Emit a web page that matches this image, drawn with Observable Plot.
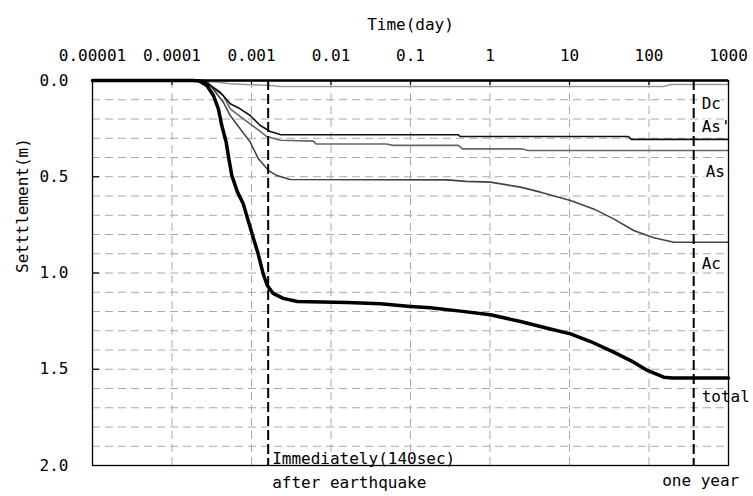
<!DOCTYPE html>
<html>
<head>
<meta charset="utf-8">
<script src="https://cdn.jsdelivr.net/npm/d3@7"></script>
<script src="https://cdn.jsdelivr.net/npm/@observablehq/plot@0.6"></script>
<style>
  html, body { margin: 0; padding: 0; background: #fff; }
</style>
</head>
<body>
<div id="chart"></div>
<script>
// Axis ticks
const timeTicks = [1e-5, 1e-4, 1e-3, 0.01, 0.1, 1, 10, 100, 1000];
const timeTickLabels = ["0.00001", "0.0001", "0.001", "0.01", "0.1", "1", "10", "100", "1000"];
const settleTicks = [0, 0.5, 1, 1.5, 2];
const settleTickLabels = ["0.0", "0.5", "1.0", "1.5", "2.0"];
const settleGrid = [0.1, 0.2, 0.3, 0.4, 0.5, 0.6, 0.7, 0.8, 0.9, 1.0, 1.1, 1.2, 1.3, 1.4, 1.5, 1.6, 1.7, 1.8, 1.9];

// Reference times (days): 140 sec after earthquake, one year
const markerTimes = [140 / 86400, 365];

// Series: total
const totalTime = [1e-5, 1.8e-4, 2.2e-4, 2.74e-4, 3.32e-4, 3.83e-4, 4.23e-4, 4.8e-4, 5.19e-4, 5.66e-4, 6.67e-4, 7.85e-4, 9.08e-4, 1.05e-3, 1.21e-3, 1.4e-3, 1.58e-3, 1.87e-3, 2.51e-3, 3.77e-3, 0.0161, 0.0418, 0.0998, 0.178, 0.425, 1.01, 2.42, 5.25, 10.3, 18.4, 35.9, 64.1, 95.5, 153, 197, 1000];
const totalSettle = [0, 0, 0.003, 0.026, 0.078, 0.147, 0.234, 0.32, 0.407, 0.494, 0.58, 0.639, 0.727, 0.816, 0.899, 1.003, 1.065, 1.106, 1.132, 1.148, 1.153, 1.16, 1.174, 1.181, 1.198, 1.217, 1.252, 1.287, 1.316, 1.356, 1.411, 1.463, 1.506, 1.541, 1.546, 1.546];

// Series: Ac
const acTime = [1e-5, 2.5e-4, 2.74e-4, 4.43e-4, 5.4e-4, 7.19e-4, 9.64e-4, 1.22e-3, 1.64e-3, 2.09e-3, 3.07e-3, 0.292, 0.5, 1.01, 2.42, 4.33, 10.3, 20.1, 35.9, 64.1, 115, 205, 1000];
const acSettle = [0, 0, 0.003, 0.113, 0.182, 0.251, 0.32, 0.407, 0.468, 0.494, 0.514, 0.516, 0.524, 0.528, 0.554, 0.58, 0.623, 0.667, 0.719, 0.779, 0.817, 0.84, 0.84];

// Series: As
const asTime = [1e-5, 2.4e-4, 4.43e-4, 5.4e-4, 7.9e-4, 1.17e-3, 1.56e-3, 2.3e-3, 6.0e-3, 6.5e-3, 0.05, 0.06, 0.4, 0.45, 2.5, 3, 1000];
const asSettle = [0, 0, 0.078, 0.147, 0.199, 0.251, 0.291, 0.31, 0.315, 0.329, 0.33, 0.337, 0.337, 0.355, 0.355, 0.364, 0.364];

// Series: As'
const asPrimeTime = [1e-5, 2.48e-4, 4.04e-4, 5.4e-4, 7.19e-4, 9.64e-4, 1.29e-3, 1.72e-3, 2.3e-3, 0.4, 0.42, 55, 60, 1000];
const asPrimeSettle = [0, 0, 0.061, 0.121, 0.147, 0.182, 0.234, 0.265, 0.281, 0.282, 0.291, 0.291, 0.306, 0.306];

// Series: Dc
const dcTime = [1e-5, 2.2e-4, 3.5e-4, 5.4e-4, 1.72e-3, 2.3e-3, 150, 190, 1000];
const dcSettle = [0, 0, 0.008, 0.017, 0.026, 0.031, 0.031, 0.021, 0.021];

// Curve labels
const seriesLabels = ["Dc", "As'", "As", "Ac", "total"];

const toRows = (ts, ss) => ts.map((t, i) => ({t, s: ss[i]}));

const FONT = "'DejaVu Sans Mono', 'Liberation Mono', monospace";
const W = 753, H = 496, ML = 92, MR = 25, MT = 80, MB = 31;

const labelRows = [
  {label: seriesLabels[0], t: 365, s: 0.12},
  {label: seriesLabels[1], t: 365, s: 0.24},
  {label: seriesLabels[3], t: 365, s: 0.952},
  {label: seriesLabels[4], t: 365, s: 1.645}
];
const labelRowsAs = [{label: seriesLabels[2], t: 365, s: 0.476}];

const halo = {fill: "#000", stroke: "#fff", strokeWidth: 3, paintOrder: "stroke"};

const chart = Plot.plot({
  width: W,
  height: H,
  marginLeft: ML,
  marginRight: MR,
  marginTop: MT,
  marginBottom: MB,
  style: {fontFamily: FONT, fontSize: "16px", color: "#000", background: "#fff"},
  x: {type: "log", domain: [1e-5, 1000]},
  y: {domain: [0, 2], reverse: true},
  marks: [
    Plot.gridY(settleGrid, {stroke: "#aaa", strokeOpacity: 1, strokeDasharray: "8,5"}),
    Plot.gridX(timeTicks, {stroke: "#aaa", strokeOpacity: 1, strokeDasharray: "8,5"}),
    Plot.tickY(settleTicks.slice(1, -1), {stroke: "#000", strokeWidth: 1.2, insetRight: W - ML - MR - 7}),
    Plot.tickX(timeTicks, {stroke: "#000", strokeWidth: 1.2, insetBottom: H - MT - MB - 5}),
    Plot.text(labelRows, {x: "t", y: "s", text: "label", dx: 8, textAnchor: "start", fontSize: 16, ...halo}),
    Plot.text(labelRowsAs, {x: "t", y: "s", text: "label", dx: 12, textAnchor: "start", fontSize: 16, ...halo}),
    Plot.text(["Immediately(140sec)"], {x: markerTimes[0], y: 2, dx: 4, dy: -7, textAnchor: "start", fontSize: 16, ...halo}),
    Plot.line(toRows(dcTime, dcSettle), {x: "t", y: "s", stroke: "#9a9a9a", strokeWidth: 1.5}),
    Plot.line(toRows(asTime, asSettle), {x: "t", y: "s", stroke: "#666", strokeWidth: 1.6}),
    Plot.line(toRows(acTime, acSettle), {x: "t", y: "s", stroke: "#444", strokeWidth: 1.6}),
    Plot.line(toRows(asPrimeTime, asPrimeSettle), {x: "t", y: "s", stroke: "#111", strokeWidth: 1.6}),
    Plot.line(toRows(totalTime, totalSettle), {x: "t", y: "s", stroke: "#000", strokeWidth: 3.5}),
    Plot.ruleX(markerTimes, {stroke: "#000", strokeWidth: 2, strokeDasharray: "10,4"}),
    Plot.frame({stroke: "#000", strokeWidth: 1.3}),
    Plot.ruleY([0], {stroke: "#000", strokeWidth: 2.5}),
    Plot.axisX(timeTicks, {anchor: "top", tickSize: 0, tickPadding: 20, label: null,
      tickFormat: d => timeTickLabels[timeTicks.indexOf(d)], fontSize: 16}),
    Plot.axisY(settleTicks, {anchor: "left", tickSize: 0, tickPadding: 24, label: null,
      tickFormat: d => settleTickLabels[settleTicks.indexOf(d)], fontSize: 16}),
    Plot.text(["Time(day)"], {frameAnchor: "top", dy: -62, fontSize: 16}),
    Plot.text(["Setttlement(m)"], {frameAnchor: "left", rotate: -90, dx: -70, fontSize: 16}),
    Plot.text(["after earthquake"], {x: markerTimes[0], y: 2, dx: 4, dy: 17, textAnchor: "start", fontSize: 16}),
    Plot.text(["one year"], {x: markerTimes[1], y: 2, dx: 7, dy: 15, textAnchor: "middle", fontSize: 16})
  ]
});

document.getElementById("chart").appendChild(chart);
</script>
</body>
</html>
